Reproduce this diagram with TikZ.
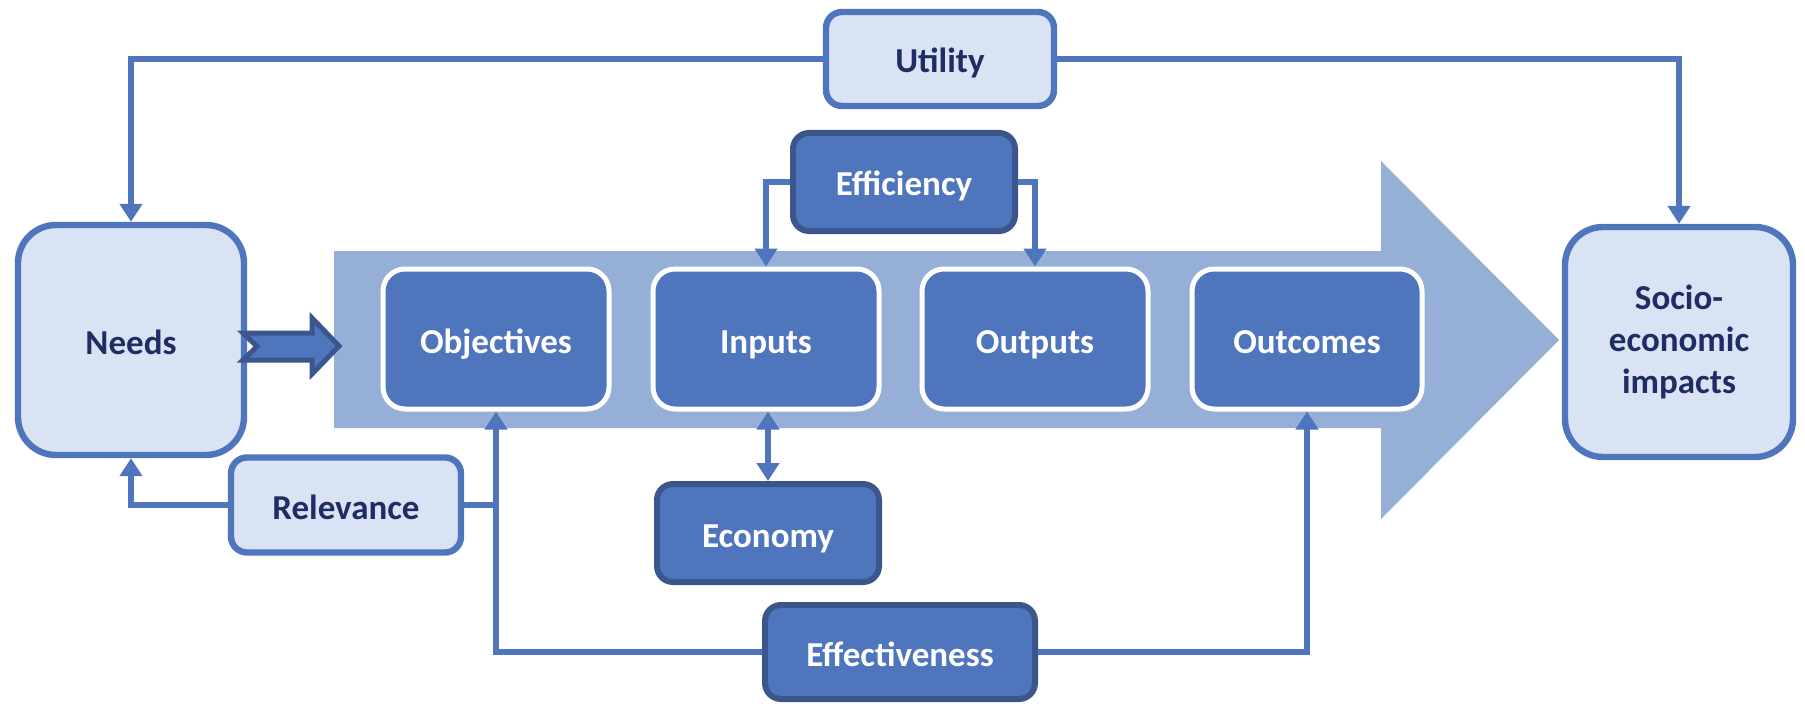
\documentclass[tikz,border=0pt]{standalone}
\usepackage{fontspec}
\setmainfont{Carlito}
\usetikzlibrary{arrows.meta}
\definecolor{mainblue}{RGB}{79,117,189}
\definecolor{lightfill}{RGB}{218,227,243}
\definecolor{bandcol}{RGB}{150,175,214}
\definecolor{darkborder}{RGB}{58,86,140}
\definecolor{textdark}{RGB}{31,45,100}
\begin{document}
\begin{tikzpicture}[x=0.5pt,y=-0.5pt,
  base/.style={rounded corners=8pt, align=center, inner sep=0pt,
    text height=15pt, text depth=1pt,
    font=\bfseries\fontsize{17.5}{21}\selectfont},
  lightbox/.style={base, fill=lightfill, draw=mainblue, line width=3.2pt, text=textdark},
  bigbox/.style={lightbox, rounded corners=19pt, minimum width=113pt, minimum height=115pt},
  stagebox/.style={base, fill=mainblue, draw=white, line width=2.5pt, text=white,
    rounded corners=11pt, minimum width=113pt, minimum height=70pt},
  critbox/.style={base, fill=mainblue, draw=darkborder, line width=3pt, text=white},
  conn/.style={draw=mainblue, line width=3.3pt, line join=miter,
    -{Triangle[width=11pt,length=9pt]}},
  plainconn/.style={draw=mainblue, line width=3.3pt, line join=miter},
  dconn/.style={draw=mainblue, line width=3.3pt,
    {Triangle[width=11pt,length=9pt]}-{Triangle[width=11pt,length=9pt]}}
]
\useasboundingbox (0,0) rectangle (1805,706);

% big process arrow
\fill[bandcol] (334,251) -- (1381,251) -- (1381,161) -- (1559,340) -- (1381,519)
  -- (1381,428) -- (334,428) -- cycle;

% nodes
\node[bigbox] (needs) at (131,340) {Needs};
\node[bigbox, minimum width=114pt, text height=, text depth=] (socio) at (1679,342) {Socio-\\economic\\impacts};
\node[lightbox, minimum width=114pt, minimum height=47pt] (util) at (940,59) {Utility};
\node[lightbox, minimum width=115pt, minimum height=47.5pt] (rel) at (346,505) {Relevance};

\node[stagebox] (obj) at (496,339) {Objectives};
\node[stagebox] (inp) at (766,339) {Inputs};
\node[stagebox] (outp) at (1035,339) {Outputs};
\node[stagebox, minimum width=115pt] (outc) at (1307,339) {Outcomes};

\node[critbox, minimum width=111pt, minimum height=49pt] (eff) at (904,182) {Efficiency};
\node[critbox, minimum width=111pt, minimum height=49pt] (econ) at (768,533) {Economy};
\node[critbox, minimum width=135pt, minimum height=47pt] (effect) at (900,652) {Effectiveness};

% needs -> process block arrow
\draw[fill=mainblue, draw=darkborder, line width=2.5pt, line join=miter]
  (243,333) -- (312,333) -- (312,318) -- (339,346) -- (312,374) -- (312,360)
  -- (243,360) -- (257,346.5) -- cycle;

% connectors
\draw[conn] (util.west) -| (needs.north);
\draw[conn] (util.east) -| (socio.north);
\draw[conn] (eff.west) -| (inp.north);
\draw[conn] (eff.east) -| (outp.north);
\draw[dconn] (econ.north) -- (econ.north |- inp.south);
\draw[conn] (rel.west) -| (needs.south);
\coordinate (relj) at (rel.east -| obj.south);
\draw[plainconn] (rel.east) -- (relj);
\draw[conn] (effect.west) -| (obj.south);
\draw[conn] (effect.east) -| (outc.south);
\end{tikzpicture}
\end{document}
